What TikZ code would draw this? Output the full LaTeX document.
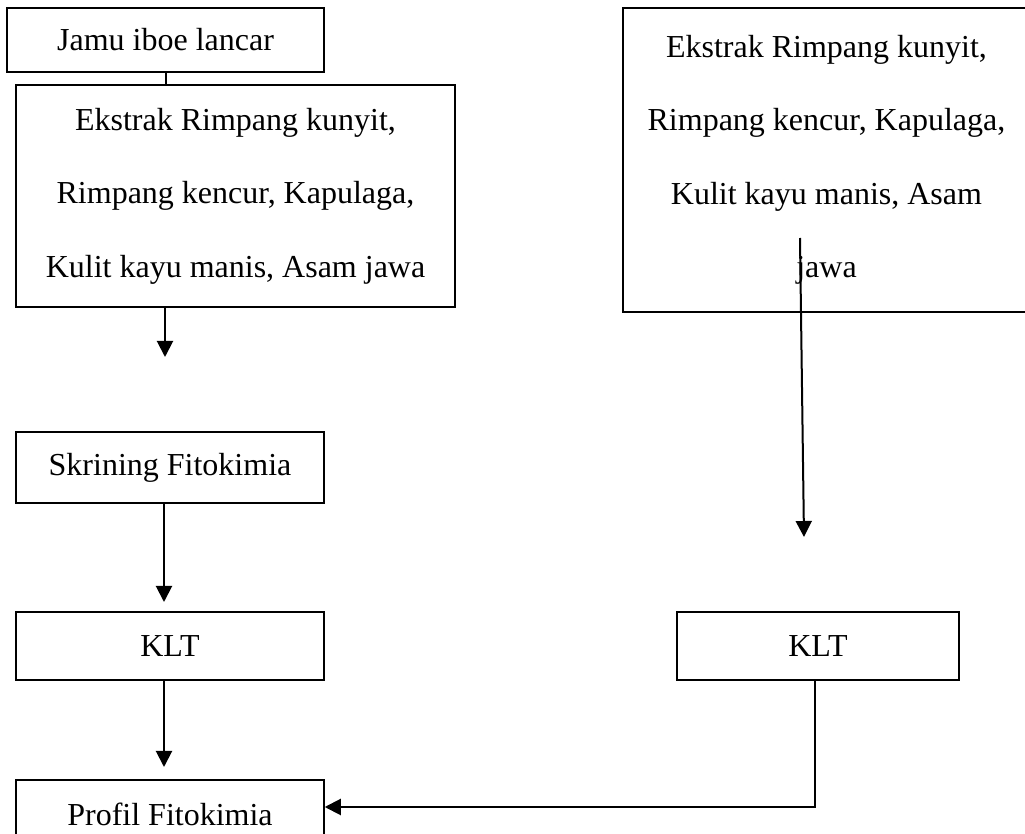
\documentclass[tikz,border=0pt]{standalone}
\usepackage{fontspec}
\setmainfont{Liberation Serif}
\usetikzlibrary{arrows.meta}
\tikzset{
  box/.style={draw, line width=0.75pt, inner sep=0pt, align=center,
    font=\fontsize{16}{36.75}\selectfont},
  link/.style={line width=1pt},
  arr/.style={line width=1pt, -{Triangle[length=8pt,width=8pt]}}
}

\begin{document}
\begin{tikzpicture}[x=0.5pt,y=-0.5pt]
\useasboundingbox (0,0) rectangle (1025,834);
\node[box, minimum width=158.5pt, minimum height=32pt] (jamu) at (165.5,40) {Jamu iboe lancar};
\node[box, minimum width=219.5pt, minimum height=111pt] (ekstrakA) at (235.5,196)
  {Ekstrak Rimpang kunyit,\\ Rimpang kencur, Kapulaga,\\ Kulit kayu manis, Asam jawa};
\node[box, minimum width=203.5pt, minimum height=152pt] (ekstrakB) at (826.5,160)
  {Ekstrak Rimpang kunyit,\\ Rimpang kencur, Kapulaga,\\ Kulit kayu manis, Asam\\ jawa};
\node[box, minimum width=154pt, minimum height=35.5pt] (skrining) at (170,467.5) {Skrining Fitokimia};
\node[box, minimum width=154pt, minimum height=34pt] (kltA) at (170,646) {KLT};
\node[box, minimum width=141pt, minimum height=34pt] (kltB) at (818,646) {KLT};
\node[box, minimum width=154pt, minimum height=34pt] (profil) at (170,814) {Profil Fitokimia};
\coordinate (a1) at (165,357);
\coordinate (a2) at (164,602);
\coordinate (a3) at (164,767);
\coordinate (b1) at (800,238);
\coordinate (b2) at (804,537);
\coordinate (c1) at (815,807);
\draw[link] (jamu.south) -- (jamu.south |- ekstrakA.north);
\draw[arr] (a1 |- ekstrakA.south) -- (a1);
\draw[arr] (a2 |- skrining.south) -- (a2);
\draw[arr] (a3 |- kltA.south) -- (a3);
\draw[arr] (b1) -- (b2);
\draw[arr] (c1 |- kltB.south) -- (c1) -- (c1 -| profil.east);
\end{tikzpicture}
\end{document}
